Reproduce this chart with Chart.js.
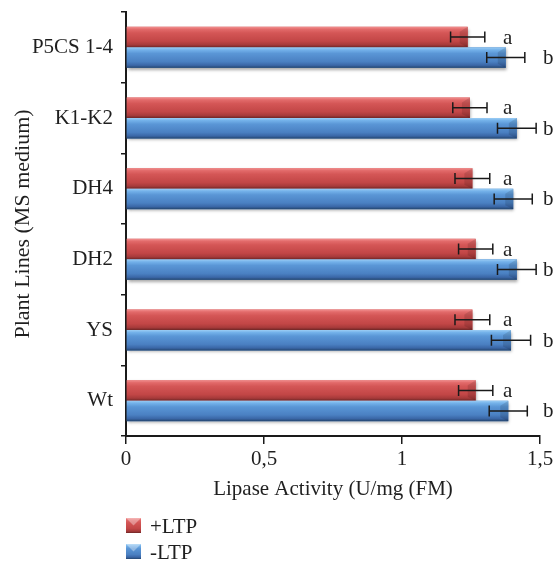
<!DOCTYPE html>
<html><head><meta charset="utf-8">
<script src="https://cdn.jsdelivr.net/npm/chart.js@4"></script>
<style>html,body{margin:0;padding:0;background:#fff;}</style>
</head><body>
<canvas id="c" width="555" height="561" style="width:555px;height:561px;display:block"></canvas>
<script>
const categories = ['P5CS 1-4', 'K1-K2', 'DH4', 'DH2', 'YS', 'Wt'];
const seriesNames = ['+LTP', '-LTP'];
const plusLTP  = [1.238, 1.246, 1.255, 1.267, 1.255, 1.267];
const minusLTP = [1.376, 1.416, 1.403, 1.416, 1.395, 1.385];
const plusErr  = [0.062, 0.062, 0.063, 0.062, 0.063, 0.062];
const minusErr = [0.069, 0.070, 0.069, 0.070, 0.071, 0.069];
const plusLetters  = ['a', 'a', 'a', 'a', 'a', 'a'];
const minusLetters = ['b', 'b', 'b', 'b', 'b', 'b'];
const xTickLabels = ['0', '0,5', '1', '1,5'];

const FONT = "'Liberation Serif', 'DejaVu Serif', serif";
const TXT = '#1f1f1f';
const redStops  = [[0,'#f29090'],[0.12,'#e26a6a'],[0.3,'#d45656'],[0.7,'#c24646'],[0.88,'#a63a3a'],[1,'#6e2626']];
const blueStops = [[0,'#9ccdf4'],[0.12,'#74b2ea'],[0.3,'#5a96d6'],[0.7,'#4a80c2'],[0.88,'#3a66a6'],[1,'#24466f']];
const stopsFor = [redStops, blueStops];
const errs = [plusErr, minusErr];
const letters = [plusLetters, minusLetters];
const letterPos = [1.366, 1.511];

function grad(ctx, top, h, stops) {
  const g = ctx.createLinearGradient(0, top, 0, top + h);
  stops.forEach(s => g.addColorStop(s[0], s[1]));
  return g;
}

const barPainter = {
  id: 'barPainter',
  beforeDatasetsDraw(chart) {
    const ctx = chart.ctx;
    ctx.save();
    ctx.shadowColor = 'rgba(0,0,0,0.35)';
    ctx.shadowBlur = 3;
    ctx.shadowOffsetX = 1;
    ctx.shadowOffsetY = 2;
  },
  afterDatasetsDraw(chart) {
    const ctx = chart.ctx;
    ctx.restore();
    const xs = chart.scales.x;
    chart.data.datasets.forEach((ds, di) => {
      const meta = chart.getDatasetMeta(di);
      meta.data.forEach((el, i) => {
        const p = el.getProps(['x', 'y', 'base', 'height'], true);
        const left = Math.min(p.base, p.x), right = Math.max(p.base, p.x);
        const top = p.y - p.height / 2;
        ctx.save();
        ctx.fillStyle = grad(ctx, top, p.height, stopsFor[di]);
        ctx.fillRect(left, top, right - left, p.height);
        ctx.fillStyle = 'rgba(0,0,0,0.12)';
        ctx.beginPath();
        ctx.moveTo(right, top); ctx.lineTo(right - 8, top + 5); ctx.lineTo(right - 8, top + p.height - 4); ctx.lineTo(right, top + p.height);
        ctx.closePath(); ctx.fill();
        ctx.restore();
        const v = ds.data[i], e = errs[di][i];
        const x1 = xs.getPixelForValue(v - e), x2 = xs.getPixelForValue(v + e);
        ctx.save();
        ctx.strokeStyle = '#1a1a1a';
        ctx.lineWidth = 1.5;
        ctx.beginPath();
        ctx.moveTo(x1, p.y); ctx.lineTo(x2, p.y);
        ctx.moveTo(x1, p.y - 5.5); ctx.lineTo(x1, p.y + 5.5);
        ctx.moveTo(x2, p.y - 5.5); ctx.lineTo(x2, p.y + 5.5);
        ctx.stroke();
        ctx.fillStyle = TXT;
        ctx.font = '21px ' + FONT;
        ctx.textAlign = 'left';
        ctx.textBaseline = 'middle';
        ctx.fillText(letters[di][i], xs.getPixelForValue(letterPos[di]), p.y + 1);
        ctx.restore();
      });
    });
  },
  afterDraw(chart) {
    const ctx = chart.ctx;
    const xs = chart.scales.x;
    const x0 = xs.getPixelForValue(0);
    const ys = [526, 552];
    chart.data.datasets.forEach((ds, di) => {
      const cy = ys[di];
      const top = cy - 8, sz = 15;
      ctx.save();
      ctx.fillStyle = grad(ctx, top, sz, stopsFor[di]);
      ctx.fillRect(x0, top, sz, sz);
      ctx.fillStyle = 'rgba(255,255,255,0.35)';
      ctx.beginPath();
      ctx.moveTo(x0, top); ctx.lineTo(x0 + sz, top); ctx.lineTo(x0 + sz / 2, top + sz / 2); ctx.closePath(); ctx.fill();
      ctx.fillStyle = TXT;
      ctx.font = '21px ' + FONT;
      ctx.textAlign = 'left';
      ctx.textBaseline = 'middle';
      ctx.fillText(ds.label, x0 + 24, cy + 1);
      ctx.restore();
    });
  }
};

new Chart(document.getElementById('c'), {
  type: 'bar',
  data: {
    labels: categories,
    datasets: [
      { label: seriesNames[0], data: plusLTP, backgroundColor: '#c84848', borderWidth: 0 },
      { label: seriesNames[1], data: minusLTP, backgroundColor: '#4a80c2', borderWidth: 0 }
    ]
  },
  options: {
    indexAxis: 'y',
    responsive: false,
    animation: false,
    devicePixelRatio: 1,
    categoryPercentage: 0.58,
    barPercentage: 1.0,
    layout: { padding: { left: 10, top: 12, right: 15, bottom: 59 } },
    plugins: { legend: { display: false }, tooltip: { enabled: false } },
    scales: {
      x: {
        min: 0, max: 1.5,
        ticks: { stepSize: 0.5, color: TXT, font: { family: FONT, size: 21 }, padding: 3,
          callback: (v, i) => xTickLabels[i] },
        grid: { drawOnChartArea: false, tickLength: 8, color: '#1a1a1a', lineWidth: 1.5 },
        border: { color: '#1a1a1a', width: 2 },
        title: { display: true, text: 'Lipase Activity (U/mg (FM)', color: TXT, font: { family: FONT, size: 21 }, padding: 0 },
        afterFit(s) { s.height = 66; s.paddingLeft = 0; s.paddingRight = 0; }
      },
      y: {
        ticks: { color: TXT, font: { family: FONT, size: 21 }, padding: 8 },
        grid: { drawOnChartArea: false, tickLength: 5, color: '#1a1a1a', lineWidth: 1.5, offset: true },
        border: { color: '#1a1a1a', width: 2 },
        title: { display: true, text: 'Plant Lines (MS medium)', color: TXT, font: { family: FONT, size: 22 }, padding: 0 },
        afterFit(s) { s.width = 116; s.paddingTop = 0; s.paddingBottom = 0; }
      }
    }
  },
  plugins: [barPainter]
});
</script>
</body></html>
